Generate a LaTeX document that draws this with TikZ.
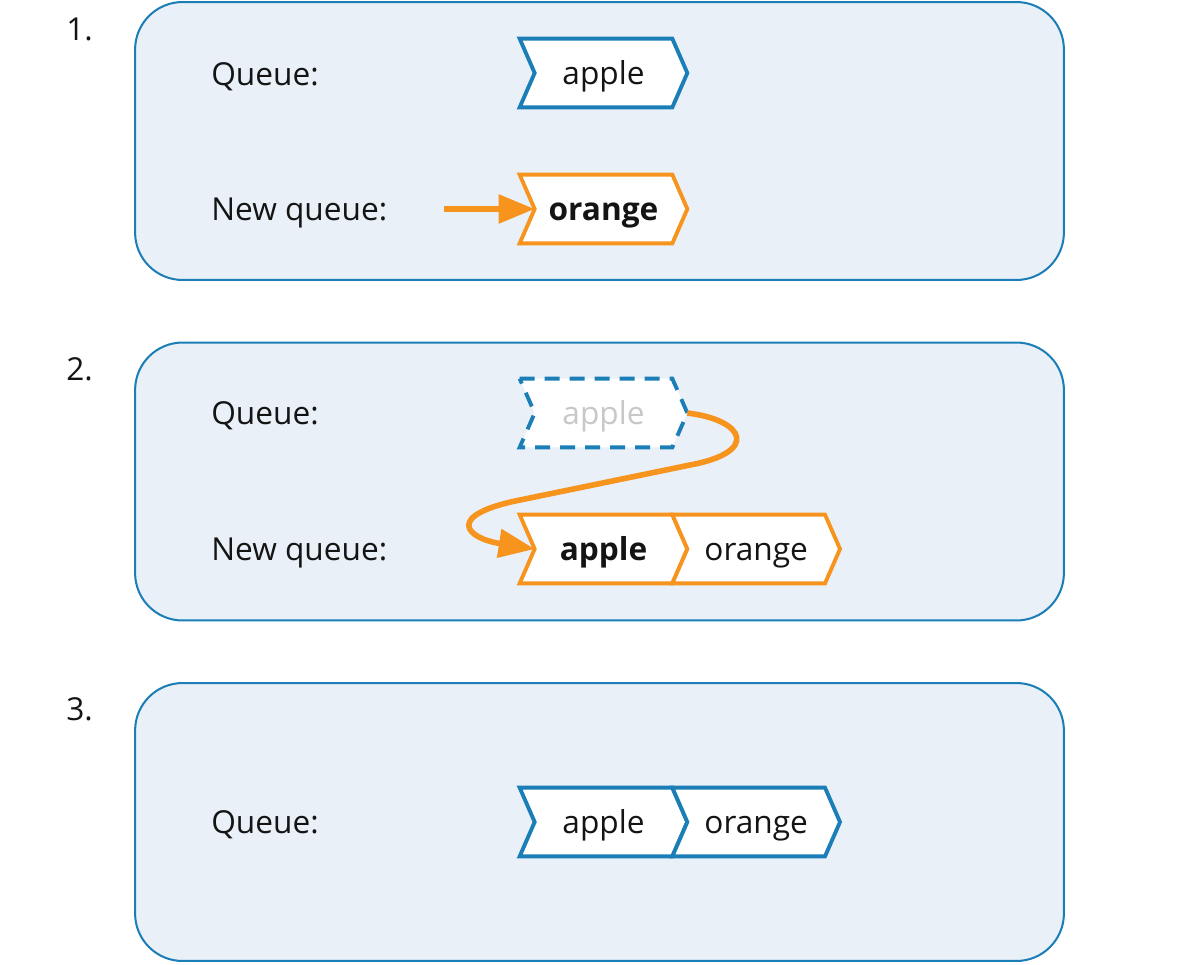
\documentclass[tikz,border=0pt]{standalone}
\usepackage{fontspec}
\setmainfont{Open Sans}
\usetikzlibrary{arrows.meta,positioning}
\definecolor{qblue}{RGB}{27,126,183}
\definecolor{qorange}{RGB}{247,148,30}
\definecolor{qfill}{RGB}{233,240,248}
\definecolor{qgray}{RGB}{200,200,200}
\definecolor{qtext}{RGB}{20,20,20}
\pgfdeclarelayer{panels}
\pgfdeclarelayer{boxes}
\pgfsetlayers{panels,boxes,main}
\tikzset{
    panel/.style={
        draw=qblue,
        fill=qfill,
        line width=1.15pt,
        rounded corners=0.95cm,
        minimum width=18.58cm,
        minimum height=5.56cm
    },
    item/.style={
        minimum width=3.34cm,
        minimum height=1.36cm,
        inner sep=0pt,
        text height=0.46cm,
        text depth=0pt
    },
    qlabel/.style={
        anchor=base west,
        inner sep=0pt
    },
    chevblue/.style={
        draw=qblue,
        fill=white,
        line width=2.2pt
    },
    chevorange/.style={
        draw=qorange,
        fill=white,
        line width=2.2pt
    },
    chevgone/.style={
        chevblue,
        dash pattern=on 0.3cm off 0.2cm
    },
    move/.style={
        draw=qorange,
        line width=3.2pt,
        -{Triangle[length=0.72cm,width=0.56cm]}
    }
}
% outline of a queue item, behind its text
\newcommand\chevron[2]{%
  \begin{pgfonlayer}{boxes}
    \draw[#2] (#1.north west) -- ([xshift=-0.3cm]#1.north east) -- (#1.east)
      -- ([xshift=-0.3cm]#1.south east) -- (#1.south west)
      -- ([xshift=0.3cm]#1.west) -- cycle;
  \end{pgfonlayer}}

\begin{document}
\begin{tikzpicture}[x=0.02cm, y=-0.02cm,
    every node/.style={font=\fontsize{18}{22}\selectfont, text=qtext}]
\useasboundingbox (0,0) rectangle (1200,964);

\begin{pgfonlayer}{panels}
\node[panel] (p1) at (599.5,141) {};
\node[panel] (p2) at (599.5,481.5) {};
\node[panel] (p3) at (599.5,822) {};
\end{pgfonlayer}

% step 1
\node[qlabel] (n1) at (66,40) {1.};
\node[qlabel] (q1) at (211,85) {Queue:};
\node[qlabel] (nq1) at (211,220.5) {New queue:};
\node[item] (a1) at (603.5,73) {apple};
\node[item] (o1) at (603.5,209) {\bfseries orange};
\chevron{a1}{chevblue}
\chevron{o1}{chevorange}
\coordinate (s1) at (444,209);
\draw[move] (s1) -- ([xshift=0.3cm]o1.west);

% step 2
\node[qlabel] (n2) at (66,380) {2.};
\node[qlabel] (q2) at (211,424.5) {Queue:};
\node[qlabel] (nq2) at (211,560.5) {New queue:};
\node[item, text=qgray] (a2) at (603.5,413) {apple};
\node[item] (a2n) at (603.5,549) {\bfseries apple};
\node[item, right=-0.3cm of a2n] (o2) {orange};
\chevron{a2}{chevgone}
\chevron{a2n}{chevorange}
\chevron{o2}{chevorange}
\draw[move] (a2.east) .. controls (745,420) and (760,452) .. (690,465)
  -- (520,500) .. controls (445,515) and (465,538) .. ([xshift=0.3cm]a2n.west);

% step 3
\node[qlabel] (n3) at (66,720) {3.};
\node[qlabel] (q3) at (211,833.5) {Queue:};
\node[item] (a3) at (603.5,822) {apple};
\node[item, right=-0.3cm of a3] (o3) {orange};
\chevron{a3}{chevblue}
\chevron{o3}{chevblue}
\end{tikzpicture}
\end{document}
